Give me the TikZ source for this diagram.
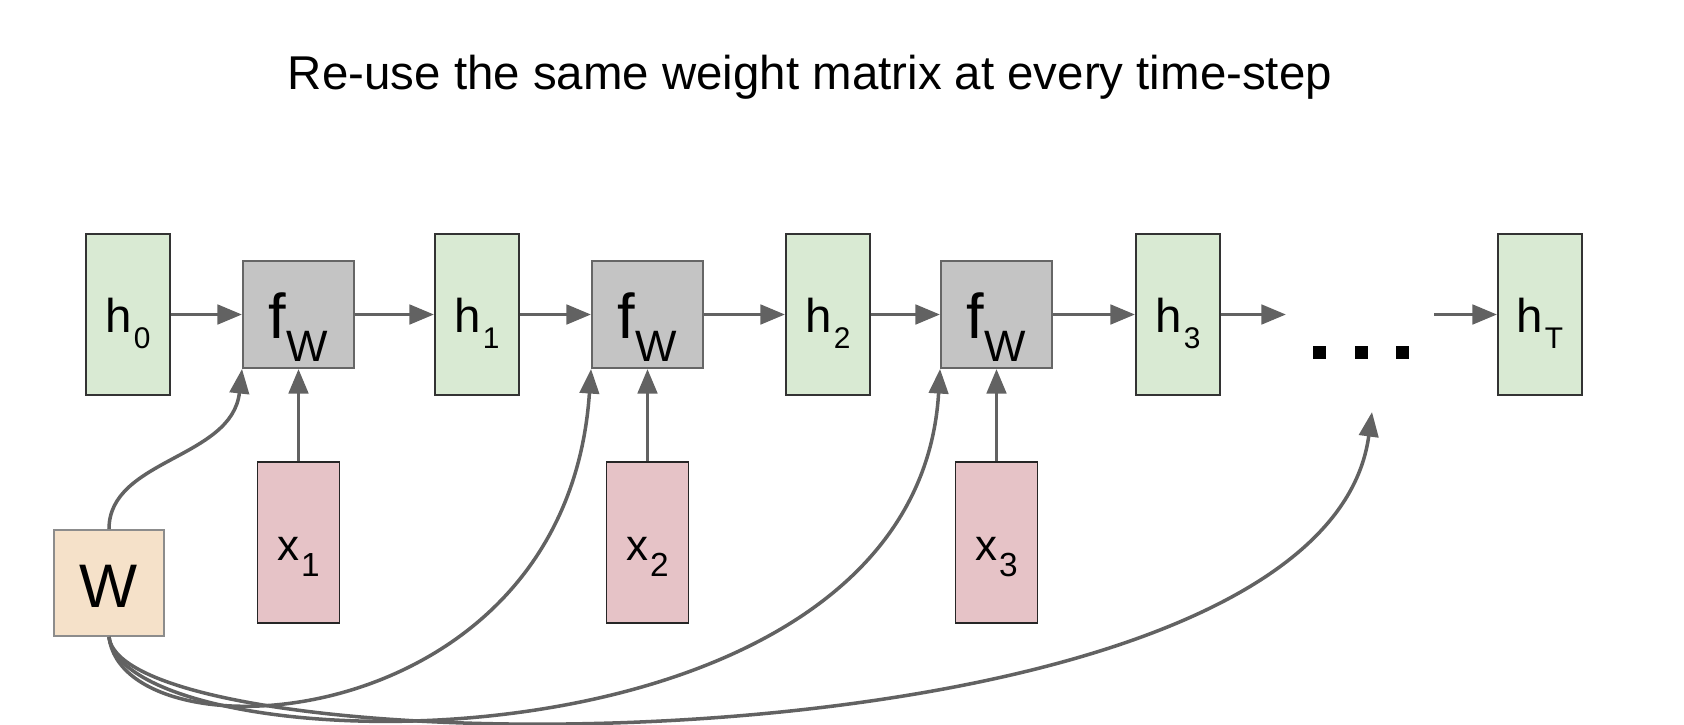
\documentclass[tikz,border=0pt]{standalone}
\usepackage{fontspec}
\setmainfont{Liberation Sans}
\usepackage{tikz}
\usetikzlibrary{arrows.meta,positioning}

\definecolor{hgreen}{HTML}{D9EAD3}
\definecolor{fgray}{HTML}{C4C4C4}
\definecolor{xpink}{HTML}{E6C3C7}
\definecolor{wtan}{HTML}{F5E1C9}
\definecolor{linkgray}{HTML}{626262}

\newcommand{\hlab}[1]{h\hspace{1pt}\raisebox{-9.5pt}{\fontsize{17}{17}\selectfont #1}}
\newcommand{\xlab}[1]{x\hspace{1pt}\raisebox{-9.5pt}{\fontsize{19}{19}\selectfont #1}}
\newcommand{\flab}{f\raisebox{-13.5pt}{\fontsize{25}{25}\selectfont W}\hspace{10pt}}

\begin{document}
\begin{tikzpicture}[x=0.02cm, y=-0.02cm,
  hbox/.style={draw=black!80, fill=hgreen, line width=1.1pt, minimum width=1.68cm, minimum height=3.22cm,
    inner sep=0pt, text height=20pt, text depth=0pt, font=\fontsize{27}{27}\selectfont},
  fbox/.style={draw=black!60, fill=fgray, line width=1.1pt, minimum width=2.22cm, minimum height=2.14cm,
    inner sep=0pt, text height=27pt, text depth=0pt, font=\fontsize{36}{36}\selectfont},
  xbox/.style={draw=black!85, fill=xpink, line width=1.1pt, minimum width=1.64cm, minimum height=3.22cm,
    inner sep=0pt, text height=20pt, text depth=0pt, font=\fontsize{25}{25}\selectfont},
  wbox/.style={draw=black!45, fill=wtan, line width=1.1pt, minimum width=2.2cm, minimum height=2.12cm,
    inner sep=0pt, text height=28.4pt, text depth=0pt, font=\fontsize{35}{35}\selectfont},
  link/.style={draw=linkgray, line width=2.2pt, -{Triangle[length=14pt, width=11pt]}},
  wire/.style={draw=linkgray, line width=2pt, -{Triangle[length=14pt, width=11pt]}}]
\useasboundingbox (0,0) rectangle (1684,724);

% Title
\node[anchor=base, font=\fontsize{27}{27}\selectfont] (title) at (810,89) {Re-use the same weight matrix at every time-step};

% Hidden states
\node[hbox] (h0) at (128,314.5) {\hlab{0}};
\node[hbox] (h1) at (477,314.5) {\hlab{1}};
\node[hbox] (h2) at (828,314.5) {\hlab{2}};
\node[hbox] (h3) at (1178,314.5) {\hlab{3}};
\node[hbox] (hT) at (1540,314.5) {\hlab{T}};

% Recurrence function
\node[fbox] (f1) at (298.5,314.5) {\flab};
\node[fbox] (f2) at (647.5,314.5) {\flab};
\node[fbox] (f3) at (996.5,314.5) {\flab};

% Inputs
\node[xbox] (x1) at (298.5,542.5) {\xlab{1}};
\node[xbox] (x2) at (647.5,542.5) {\xlab{2}};
\node[xbox] (x3) at (996.5,542.5) {\xlab{3}};

% Weights
\node[wbox] (W) at (109,583) {W\hspace{8pt}};

% Ellipsis
\node[inner sep=0pt] (dots) at (1361,352) {\rule{0.26cm}{0.26cm}\hspace{0.57cm}\rule{0.26cm}{0.26cm}\hspace{0.57cm}\rule{0.26cm}{0.26cm}};
\coordinate (gapL) at (1286,314.5);
\coordinate (gapR) at (1434,314.5);
\coordinate (gapB) at (1372,412);

% Chain
\draw[link] (h0) -- (f1);
\draw[link] (f1) -- (h1);
\draw[link] (h1) -- (f2);
\draw[link] (f2) -- (h2);
\draw[link] (h2) -- (f3);
\draw[link] (f3) -- (h3);
\draw[link] (h3) -- (gapL);
\draw[link] (gapR) -- (hT);

% Inputs up
\draw[link] (x1) -- (f1);
\draw[link] (x2) -- (f2);
\draw[link] (x3) -- (f3);

% Shared W
\draw[wire] (W.north) .. controls +(0,-70) and +(-10,90) .. (f1.south west);
\draw[wire] (W.south) .. controls +(15,125) and +(-25,370) .. (f2.south west);
\draw[wire] (W.south) .. controls +(15,130) and +(-25,420) .. (f3.south west);
\draw[wire] (W.south) .. controls +(15,135) and +(-50,370) .. (gapB);
\end{tikzpicture}
\end{document}
